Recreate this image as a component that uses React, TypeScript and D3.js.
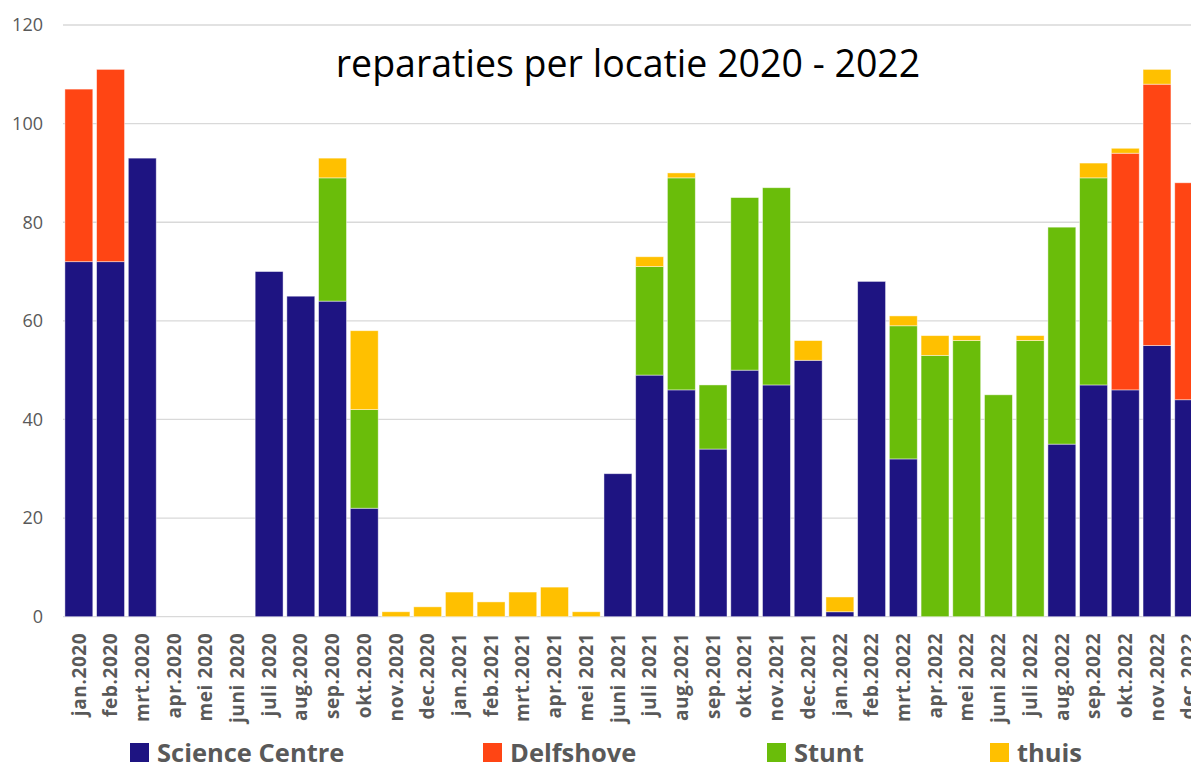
import * as d3 from "d3";
import { useEffect, useRef } from "react";

const months = [
  "jan.2020", "feb.2020", "mrt.2020", "apr.2020", "mei 2020", "juni 2020",
  "juli 2020", "aug.2020", "sep.2020", "okt.2020", "nov.2020", "dec.2020",
  "jan.2021", "feb.2021", "mrt.2021", "apr.2021", "mei 2021", "juni 2021",
  "juli 2021", "aug.2021", "sep.2021", "okt.2021", "nov.2021", "dec.2021",
  "jan.2022", "feb.2022", "mrt.2022", "apr.2022", "mei 2022", "juni 2022",
  "juli 2022", "aug.2022", "sep.2022", "okt.2022", "nov.2022", "dec.2022"
];

const scienceCentre = [
  72, 72, 93, 0, 0, 0, 70, 65, 64, 22, 0, 0,
  0, 0, 0, 0, 0, 29, 49, 46, 34, 50, 47, 52,
  1, 68, 32, 0, 0, 0, 0, 35, 47, 46, 55, 44
];
const delfshove = [
  35, 39, 0, 0, 0, 0, 0, 0, 0, 0, 0, 0,
  0, 0, 0, 0, 0, 0, 0, 0, 0, 0, 0, 0,
  0, 0, 0, 0, 0, 0, 0, 0, 0, 48, 53, 44
];
const stunt = [
  0, 0, 0, 0, 0, 0, 0, 0, 25, 20, 0, 0,
  0, 0, 0, 0, 0, 0, 22, 43, 13, 35, 40, 0,
  0, 0, 27, 53, 56, 45, 56, 44, 42, 0, 0, 0
];
const thuis = [
  0, 0, 0, 0, 0, 0, 0, 0, 4, 16, 1, 2,
  5, 3, 5, 6, 1, 0, 2, 1, 0, 0, 0, 4,
  3, 0, 2, 4, 1, 0, 1, 0, 3, 1, 3, 0
];

const seriesNames = ["Science Centre", "Delfshove", "Stunt", "thuis"];
const seriesColors = ["#1e1482", "#ff4514", "#6abd0a", "#ffc000"];
const yTicks = [0, 20, 40, 60, 80, 100, 120];

const width = 1191;
const height = 767;
const margin = { top: 25, left: 63, bottom: 150 };
const step = 31.71;

export default function App(): React.JSX.Element {
  const ref = useRef<SVGSVGElement>(null);

  useEffect(() => {
    const svg = d3.select(ref.current);
    svg.selectAll("*").remove();

    const rows = months.map((month, i) => ({
      month,
      "Science Centre": scienceCentre[i],
      Delfshove: delfshove[i],
      Stunt: stunt[i],
      thuis: thuis[i]
    }));

    const x = d3
      .scaleBand<string>()
      .domain(months)
      .range([margin.left, margin.left + step * months.length])
      .paddingInner(0.12)
      .paddingOuter(0.06);
    const y = d3
      .scaleLinear()
      .domain([0, 120])
      .range([height - margin.bottom - 0.3, margin.top]);
    const color = d3.scaleOrdinal<string>().domain(seriesNames).range(seriesColors);

    // gridlines
    svg
      .append("g")
      .selectAll("line")
      .data(yTicks)
      .join("line")
      .attr("x1", margin.left)
      .attr("x2", width)
      .attr("y1", (d) => y(d))
      .attr("y2", (d) => y(d))
      .attr("stroke", "#d9d9d9")
      .attr("stroke-width", 1.3);

    svg
      .append("g")
      .selectAll("text")
      .data(yTicks)
      .join("text")
      .attr("x", 43)
      .attr("y", (d) => y(d))
      .attr("dy", "0.35em")
      .attr("text-anchor", "end")
      .attr("font-family", "'Open Sans', sans-serif")
      .attr("font-size", 18)
      .attr("fill", "#595959")
      .text((d) => d);

    const stack = d3.stack<(typeof rows)[number]>().keys(seriesNames);
    const layers = stack(rows as never);

    svg
      .append("g")
      .selectAll("g")
      .data(layers)
      .join("g")
      .attr("fill", (d) => color(d.key))
      .selectAll("rect")
      .data((d) => d.filter((seg) => seg[1] - seg[0] > 0))
      .join("rect")
      .attr("x", (d) => x(d.data.month) ?? 0)
      .attr("width", x.bandwidth())
      .attr("y", (d) => y(d[1]))
      .attr("height", (d) => y(d[0]) - y(d[1]))
      .attr("stroke", "#ffffff")
      .attr("stroke-opacity", 0.55)
      .attr("stroke-width", 0.8);

    // month labels
    svg
      .append("g")
      .selectAll("text")
      .data(months)
      .join("text")
      .attr(
        "transform",
        (d) => `translate(${(x(d) ?? 0) + x.bandwidth() / 2},${y(0) + 16}) rotate(-90)`
      )
      .attr("dy", "0.35em")
      .attr("text-anchor", "end")
      .attr("font-family", "'Open Sans', sans-serif")
      .attr("font-weight", "bold")
      .attr("font-size", 19)
      .attr("letter-spacing", 0.6)
      .attr("fill", "#595959")
      .text((d) => d);

    svg
      .append("text")
      .attr("x", 628)
      .attr("y", 77)
      .attr("text-anchor", "middle")
      .attr("font-family", "'Open Sans', sans-serif")
      .attr("font-size", 37.5)
      .attr("fill", "#000000")
      .text("reparaties per locatie 2020 - 2022");

    const legendX = [130, 483, 767, 990];
    const legend = svg
      .append("g")
      .selectAll("g")
      .data(seriesNames)
      .join("g")
      .attr("transform", (_, i) => `translate(${legendX[i]},753)`);
    legend
      .append("rect")
      .attr("x", 0)
      .attr("y", -10)
      .attr("width", 19)
      .attr("height", 19)
      .attr("fill", (d) => color(d));
    legend
      .append("text")
      .attr("x", 27)
      .attr("dy", "0.35em")
      .attr("font-family", "'Open Sans', sans-serif")
      .attr("font-weight", "bold")
      .attr("font-size", 25.5)
      .attr("fill", "#595959")
      .text((d) => d);
  }, []);

  return (
    <svg
      ref={ref}
      width={width}
      height={height}
      style={{ position: "absolute", left: 0, top: 0, background: "#ffffff" }}
    />
  );
}
